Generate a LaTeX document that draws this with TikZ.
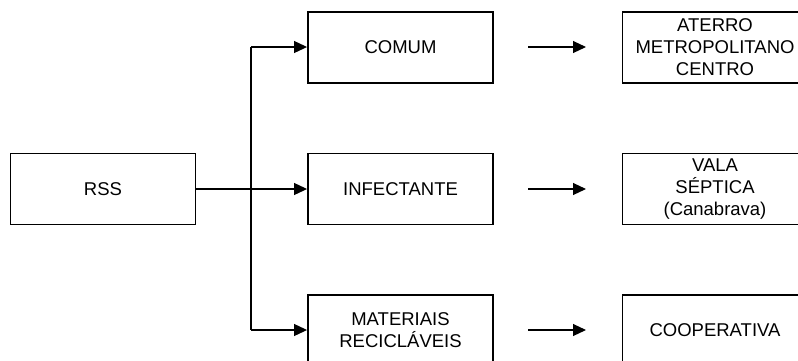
\documentclass[tikz,border=0pt]{standalone}
\usepackage{fontspec}
\setmainfont{Liberation Sans}
\usetikzlibrary{arrows.meta}
\begin{document}
\begin{tikzpicture}[x=1pt,y=-1pt,
  box/.style={draw,line width=1.9pt,minimum width=185pt,minimum height=71pt,inner sep=0pt,align=center,font=\fontsize{18.5}{22}\selectfont},
  conn/.style={line width=1.1pt,-{Triangle[length=13pt,width=12pt]}}]
\useasboundingbox (0,0) rectangle (798,360);
\clip (0,0) rectangle (798,360);
\node[box] (rss) at (103,189) {RSS};
\node[box] (comum) at (400.5,47.5) {COMUM};
\node[box] (inf) at (400.5,189) {INFECTANTE};
\node[box] (mat) at (400.5,330.5) {MATERIAIS\\RECICLÁVEIS};
\node[box] (aterro) at (715,47.5) {ATERRO\\METROPOLITANO\\CENTRO};
\node[box] (vala) at (715,189) {VALA\\SÉPTICA\\(Canabrava)};
\node[box] (coop) at (715,330.5) {COOPERATIVA};
\coordinate (top) at (251,47);
\coordinate (bot) at (251,330);
\draw[line width=1.8pt] (top) -- (bot);
\draw[conn] (rss.east) -- (inf.west);
\draw[conn] (top) -- (comum.west |- top);
\draw[conn] (bot) -- (mat.west |- bot);
\coordinate (a1) at (528,47);
\coordinate (a2) at (528,189);
\coordinate (a3) at (528,330);
\coordinate (b1) at (586,47);
\coordinate (b2) at (586,189);
\coordinate (b3) at (586,330);
\draw[conn] (a1) -- (b1);
\draw[conn] (a2) -- (b2);
\draw[conn] (a3) -- (b3);
\end{tikzpicture}
\end{document}
